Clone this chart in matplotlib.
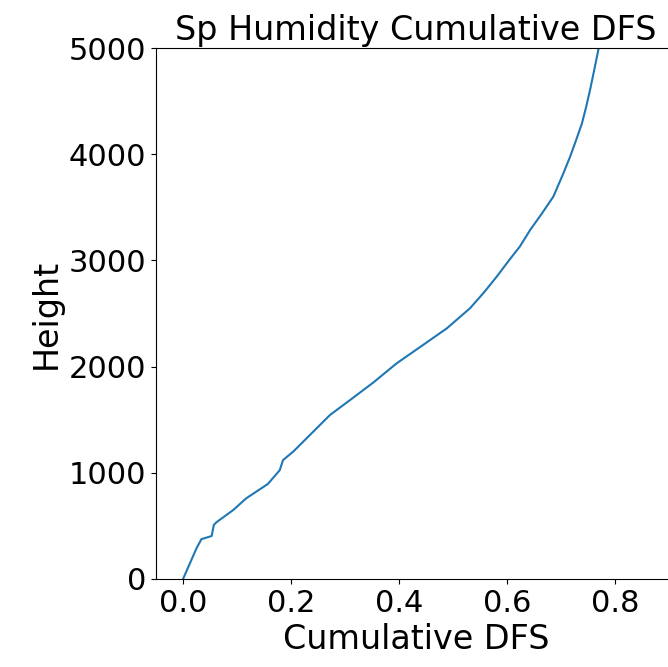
import matplotlib
matplotlib.use('Agg')
import matplotlib.pyplot as plt

# Cumulative DFS profile for specific humidity
height = [0, 290, 375, 405, 510, 535, 650, 760, 895, 1025, 1120, 1200,
          1545, 1685, 1850, 2030, 2200, 2360, 2550, 2700, 2845, 3000,
          3130, 3285, 3450, 3600, 3800, 3975, 4130, 4290, 4450, 4605,
          4800, 5000]
cum_dfs = [0.0, 0.025, 0.034, 0.053, 0.057, 0.062, 0.093, 0.117, 0.157,
           0.179, 0.185, 0.204, 0.272, 0.309, 0.352, 0.395, 0.443, 0.488,
           0.531, 0.557, 0.580, 0.603, 0.623, 0.642, 0.665, 0.685, 0.702,
           0.716, 0.727, 0.738, 0.746, 0.753, 0.761, 0.769]

fig = plt.figure(figsize=(6.68, 6.67), dpi=100)
ax = fig.add_axes([156 / 668, 88 / 667, 520 / 668, 531 / 667])
ax.plot(cum_dfs, height, color='#1f77b4', linewidth=1.5)
ax.set_xlim(-0.05, 0.912)
ax.set_ylim(0, 5000)
ax.set_xticks([0.0, 0.2, 0.4, 0.6, 0.8])
ax.set_yticks([0, 1000, 2000, 3000, 4000, 5000])
ax.tick_params(labelsize=22)
ax.set_xlabel('Cumulative DFS', fontsize=24)
ax.set_ylabel('Height', fontsize=24)
ax.set_title('Sp Humidity Cumulative DFS', fontsize=24)

fig.savefig('out.png', dpi=100)
